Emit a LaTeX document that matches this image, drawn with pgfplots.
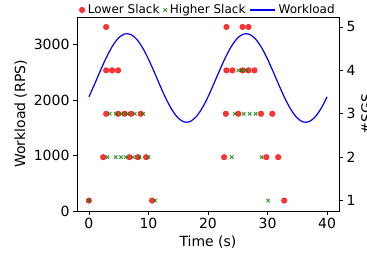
\documentclass[border=0pt]{standalone}
\usepackage{fontspec}
\setmainfont{DejaVu Sans}
\usepackage{pgfplots}
\pgfplotsset{compat=1.18}
\definecolor{mplred}{RGB}{255,0,0}
\definecolor{mplgreen}{RGB}{0,128,0}
\begin{document}
\begin{tikzpicture}
\path[use as bounding box] (-77pt,-43pt) rectangle (290pt,211pt);
\begin{axis}[
  scale only axis, width=262pt, height=194pt,
  xmin=-2, xmax=42, ymin=0, ymax=3500,
  xtick={0,10,20,30,40}, ytick={0,1000,2000,3000},
  xtick pos=bottom, ytick pos=left,
  tick align=outside, major tick length=4pt,
  every tick/.style={black, line width=0.8pt},
  axis line style={line width=0.8pt},
  /pgf/number format/assume math mode=true,
  /pgf/number format/1000 sep={},
  tick label style={font=\fontsize{14}{16}\selectfont},
  label style={font=\fontsize{14}{16}\selectfont},
  xlabel={Time (s)}, ylabel={Workload (RPS)},
]
\addplot[blue, line width=1.2pt, smooth] coordinates {
(0,2059) (1,2300) (2,2550) (3,2785) (4,2983) (5,3124) (6,3194) (7,3186) (8,3101) (9,2948)
(10,2741) (11,2500) (12,2250) (13,2015) (14,1817) (15,1676) (16,1606) (17,1614) (18,1699) (19,1852)
(20,2059) (21,2300) (22,2550) (23,2785) (24,2983) (25,3124) (26,3194) (27,3186) (28,3101) (29,2948)
(30,2741) (31,2500) (32,2250) (33,2015) (34,1817) (35,1676) (36,1606) (37,1614) (38,1699) (39,1852)
(40,2059)};
\end{axis}
\begin{axis}[
  scale only axis, width=262pt, height=194pt,
  xmin=-2, xmax=42, ymin=0.76, ymax=5.23,
  axis x line=none, axis y line*=right,
  ytick={1,2,3,4,5},
  tick align=outside, major tick length=4pt,
  every tick/.style={black, line width=0.8pt},
  axis line style={line width=0.8pt},
  /pgf/number format/assume math mode=true,
  tick label style={font=\fontsize{14}{16}\selectfont},
  ylabel={\#SGS}, ylabel near ticks,
  ylabel style={font=\fontsize{14}{16}\selectfont, yshift=1pt},
  legend style={at={(0.5,1)}, anchor=south, draw=none, fill=none,
    legend columns=3, font=\fontsize{12}{14}\selectfont,
    inner sep=0pt, yshift=-0.5pt,
    /tikz/every even column/.append style={column sep=2pt},
    /tikz/every odd column/.append style={column sep=1pt}},
]
\addplot[only marks, mark=*, mark size=2.8pt, color=mplred, opacity=0.8, mark options={draw=none}] coordinates {
(2.9,5) (23.1,5) (25.8,5) (26.8,5)
(2.9,4) (3.9,4) (4.9,4) (23.1,4) (24.1,4) (25.8,4) (26.8,4) (27.8,4)
(2.9,3) (4.9,3) (6.0,3) (7.1,3) (8.7,3) (23.0,3) (25.1,3) (28.9,3) (30.8,3)
(2.4,2) (6.8,2) (8.2,2) (9.6,2) (22.7,2) (29.8,2) (31.8,2)
(0,1) (10.6,1) (32.8,1)};
\addlegendentry{Lower Slack}
\addplot[only marks, mark=x, mark size=2.4pt, color=mplgreen, opacity=0.8, line width=1pt] coordinates {
(25.1,4) (25.6,4) (26.4,4)
(3.5,3) (4.5,3) (5.5,3) (6.5,3) (7.7,3) (9.1,3) (24.5,3) (26.0,3) (27.0,3) (28.0,3)
(3.1,2) (4.5,2) (5.4,2) (6.2,2) (7.4,2) (8.5,2) (10.0,2) (24.0,2) (29.0,2)
(0,1) (11.1,1) (30.1,1)};
\addlegendentry{Higher Slack}
\addlegendimage{legend image code/.code={\draw[blue, line width=1.2pt] (0pt,0pt) -- (25pt,0pt);}}
\addlegendentry{Workload}
\end{axis}
\end{tikzpicture}
\end{document}
